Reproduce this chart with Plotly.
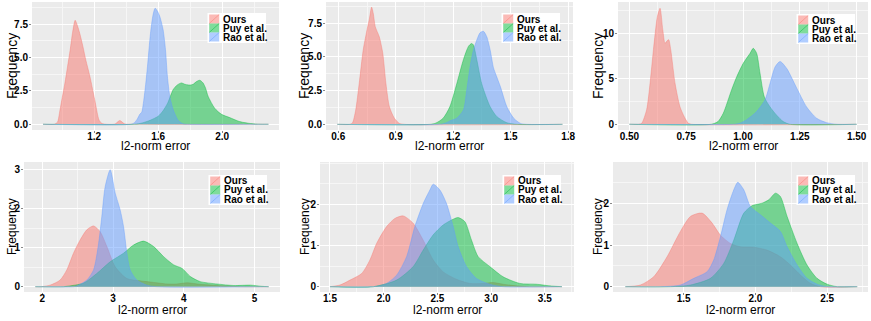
import plotly.graph_objects as go

# ---------------- data ----------------
series_names = ["Ours", "Puy et al.", "Rao et al."]
x_title = "l2-norm error"
y_title = "Frequency"

# Panel 1
p1_ours_x = [0.88, 0.95, 0.97, 0.985, 1.00, 1.017, 1.033, 1.05, 1.065, 1.081, 1.095, 1.11, 1.13, 1.148, 1.173, 1.204, 1.231, 1.25, 1.28, 1.33, 1.36, 1.39, 1.45, 2.29]
p1_ours_y = [0, 0, 0.15, 1.0, 2.0, 3.1, 4.3, 5.6, 6.9, 7.8, 7.4, 6.8, 5.8, 4.8, 3.6, 1.8, 0.3, 0.05, 0, 0.02, 0.28, 0.03, 0, 0]
p1_puy_x = [0.88, 1.45, 1.50, 1.55, 1.60, 1.63, 1.66, 1.694, 1.72, 1.746, 1.767, 1.7875, 1.805, 1.819, 1.84, 1.860, 1.881, 1.897, 1.9125, 1.954, 1.996, 2.048, 2.11, 2.194, 2.25, 2.29]
p1_puy_y = [0, 0, 0.1, 0.3, 0.6, 1.0, 1.6, 2.6, 2.95, 3.1, 3.0, 2.95, 2.95, 3.0, 3.2, 3.3, 3.1, 2.7, 2.1, 1.2, 0.75, 0.5, 0.2, 0.03, 0, 0]
p1_rao_x = [0.88, 1.43, 1.45, 1.47, 1.485, 1.497, 1.51, 1.522, 1.533, 1.552, 1.568, 1.581, 1.595, 1.610, 1.631, 1.646, 1.658, 1.673, 1.694, 1.725, 1.756, 1.78, 2.29]
p1_rao_y = [0, 0, 0.1, 0.4, 0.75, 0.9, 1.8, 3.0, 4.3, 6.8, 8.2, 8.7, 8.5, 8.1, 7.1, 5.6, 3.6, 2.1, 1.1, 0.3, 0.03, 0, 0]

# Panel 2
p2_ours_x = [0.595, 0.66, 0.674, 0.691, 0.709, 0.730, 0.747, 0.762, 0.774, 0.783, 0.793, 0.814, 0.832, 0.849, 0.867, 0.893, 0.919, 0.946, 1.77]
p2_ours_y = [0, 0, 0.1, 1.06, 3.0, 5.5, 6.8, 7.8, 8.7, 8.2, 7.25, 6.5, 5.3, 3.0, 1.3, 0.45, 0.07, 0, 0]
p2_puy_x = [0.595, 1.08, 1.11, 1.147, 1.182, 1.218, 1.253, 1.28, 1.296, 1.305, 1.323, 1.349, 1.393, 1.428, 1.48, 1.533, 1.77]
p2_puy_y = [0, 0, 0.1, 0.45, 1.3, 3.0, 4.8, 5.8, 6.0, 5.9, 4.8, 3.0, 1.3, 0.57, 0.12, 0, 0]
p2_rao_x = [0.595, 1.13, 1.16, 1.19, 1.218, 1.253, 1.27, 1.288, 1.305, 1.323, 1.34, 1.358, 1.375, 1.393, 1.41, 1.425, 1.446, 1.48, 1.516, 1.551, 1.586, 1.77]
p2_rao_y = [0, 0, 0.1, 0.3, 0.45, 1.06, 2.5, 4.3, 5.5, 6.26, 6.8, 6.9, 6.5, 5.5, 4.2, 3.6, 2.8, 1.3, 0.45, 0.07, 0, 0]

# Panel 3
p3_ours_x = [0.5, 0.54, 0.554, 0.576, 0.591, 0.606, 0.623, 0.635, 0.647, 0.657, 0.667, 0.673, 0.682, 0.701, 0.723, 0.745, 0.760, 0.774, 1.5]
p3_ours_y = [0, 0, 0.1, 1.6, 4.5, 8.2, 11.8, 12.75, 10.4, 8.9, 9.2, 9.3, 8.2, 4.5, 1.9, 0.66, 0.1, 0, 0]
p3_puy_x = [0.5, 0.86, 0.89, 0.913, 0.95, 0.972, 1.001, 1.031, 1.045, 1.06, 1.075, 1.094, 1.119, 1.148, 1.177, 1.207, 1.5]
p3_puy_y = [0, 0, 0.3, 1.2, 3.8, 5.2, 6.7, 7.8, 8.35, 7.8, 5.6, 3.0, 1.9, 1.0, 0.3, 0, 0]
p3_rao_x = [0.5, 0.96, 0.985, 1.016, 1.06, 1.097, 1.119, 1.141, 1.163, 1.192, 1.236, 1.28, 1.324, 1.368, 1.412, 1.5]
p3_rao_y = [0, 0, 0.1, 0.5, 1.4, 2.7, 4.5, 6.3, 6.9, 6.15, 4.0, 1.9, 0.66, 0.18, 0, 0]

# Panel 4
p4_ours_x = [1.9, 1.98, 2.109, 2.25, 2.345, 2.44, 2.534, 2.628, 2.723, 2.817, 2.912, 3.03, 3.195, 3.384, 3.573, 3.762, 3.9, 4.045, 4.234, 4.47, 4.8, 5.2]
p4_ours_y = [0, 0, 0.04, 0.17, 0.43, 0.86, 1.2, 1.46, 1.56, 1.41, 1.03, 0.51, 0.21, 0.15, 0.11, 0.07, 0.07, 0.1, 0.06, 0.03, 0, 0]
p4_puy_x = [1.9, 2.3, 2.345, 2.58, 2.77, 2.959, 3.148, 3.29, 3.431, 3.573, 3.715, 3.857, 3.975, 4.093, 4.234, 4.47, 4.707, 4.943, 5.1, 5.2]
p4_puy_y = [0, 0, 0.01, 0.09, 0.34, 0.64, 0.86, 1.07, 1.17, 1.03, 0.77, 0.56, 0.47, 0.26, 0.13, 0.07, 0.03, 0.04, 0.01, 0]
p4_rao_x = [1.9, 2.44, 2.487, 2.628, 2.723, 2.794, 2.84, 2.888, 2.959, 3.03, 3.10, 3.148, 3.195, 3.242, 3.337, 3.479, 3.62, 5.2]
p4_rao_y = [0, 0, 0.02, 0.17, 0.43, 1.1, 1.8, 2.57, 3.0, 2.4, 1.97, 1.54, 0.86, 0.43, 0.17, 0.04, 0, 0]

# Panel 5
p5_ours_x = [1.5, 1.593, 1.686, 1.795, 1.872, 1.934, 2.027, 2.105, 2.182, 2.275, 2.368, 2.461, 2.554, 2.678, 2.802, 2.926, 3.019, 3.112, 3.236, 3.36, 3.66]
p5_ours_y = [0, 0.04, 0.16, 0.32, 0.65, 1.05, 1.46, 1.66, 1.72, 1.54, 1.13, 0.65, 0.36, 0.18, 0.08, 0.08, 0.1, 0.06, 0.02, 0, 0]
p5_puy_x = [1.5, 1.903, 2.12, 2.275, 2.368, 2.461, 2.554, 2.647, 2.694, 2.756, 2.818, 2.88, 2.988, 3.112, 3.267, 3.422, 3.547, 3.66]
p5_puy_y = [0, 0, 0.16, 0.49, 0.89, 1.26, 1.5, 1.64, 1.68, 1.58, 1.13, 0.73, 0.49, 0.24, 0.08, 0.06, 0.02, 0]
p5_rao_x = [1.5, 1.903, 2.027, 2.12, 2.213, 2.29, 2.368, 2.43, 2.461, 2.523, 2.585, 2.647, 2.694, 2.771, 2.864, 2.988, 3.112, 3.66]
p5_rao_y = [0, 0, 0.08, 0.28, 0.73, 1.46, 2.02, 2.35, 2.49, 2.35, 2.02, 1.46, 0.97, 0.49, 0.2, 0.06, 0, 0]

# Panel 6
p6_ours_x = [1.093, 1.198, 1.291, 1.384, 1.477, 1.547, 1.628, 1.698, 1.756, 1.826, 1.895, 1.988, 2.081, 2.174, 2.244, 2.314, 2.384, 2.453, 2.71]
p6_ours_y = [0, 0.04, 0.24, 0.72, 1.33, 1.69, 1.77, 1.53, 1.24, 1.04, 0.96, 0.95, 0.88, 0.72, 0.52, 0.28, 0.08, 0, 0]
p6_puy_x = [1.093, 1.407, 1.547, 1.686, 1.779, 1.849, 1.919, 1.977, 2.047, 2.093, 2.14, 2.174, 2.221, 2.291, 2.36, 2.43, 2.5, 2.57, 2.71]
p6_puy_y = [0, 0, 0.04, 0.2, 0.56, 1.12, 1.77, 1.95, 2.01, 2.09, 2.25, 2.17, 1.69, 1.04, 0.52, 0.2, 0.06, 0, 0]
p6_rao_x = [1.093, 1.337, 1.477, 1.57, 1.663, 1.709, 1.756, 1.802, 1.849, 1.877, 1.919, 1.965, 2.035, 2.105, 2.174, 2.221, 2.291, 2.36, 2.43, 2.5, 2.71]
p6_rao_y = [0, 0, 0.04, 0.2, 0.36, 0.64, 1.2, 1.85, 2.33, 2.51, 2.33, 1.93, 1.73, 1.53, 1.33, 0.96, 0.52, 0.2, 0.06, 0, 0]

# tick labels
p1_xticks = [1.2, 1.6, 2.0]; p1_xlabels = ["1.2", "1.6", "2.0"]
p1_yticks = [0, 2.5, 5, 7.5]; p1_ylabels = ["0.0", "2.5", "5.0", "7.5"]
p2_xticks = [0.6, 0.9, 1.2, 1.5, 1.8]; p2_xlabels = ["0.6", "0.9", "1.2", "1.5", "1.8"]
p2_yticks = [0, 2.5, 5, 7.5]; p2_ylabels = ["0.0", "2.5", "5.0", "7.5"]
p3_xticks = [0.5, 0.75, 1.0, 1.25, 1.5]; p3_xlabels = ["0.50", "0.75", "1.00", "1.25", "1.50"]
p3_yticks = [0, 5, 10]; p3_ylabels = ["0", "5", "10"]
p4_xticks = [2, 3, 4, 5]; p4_xlabels = ["2", "3", "4", "5"]
p4_yticks = [0, 1, 2, 3]; p4_ylabels = ["0", "1", "2", "3"]
p5_xticks = [1.5, 2.0, 2.5, 3.0, 3.5]; p5_xlabels = ["1.5", "2.0", "2.5", "3.0", "3.5"]
p5_yticks = [0, 1, 2]; p5_ylabels = ["0", "1", "2"]
p6_xticks = [1.5, 2.0, 2.5]; p6_xlabels = ["1.5", "2.0", "2.5"]
p6_yticks = [0, 1, 2]; p6_ylabels = ["0", "1", "2"]

# ---------------- layout / style ----------------
W, H = 871, 321
colors = [(248, 118, 109), (0, 186, 56), (97, 156, 255)]
FONT = "Liberation Sans, Arial, Helvetica, sans-serif"

def rgba(c, a):
    return "rgba(%d,%d,%d,%s)" % (c[0], c[1], c[2], a)

def px_x(p):
    return p / W

def px_y(p):
    return 1 - p / H

panels = [
    dict(series=[(p1_ours_x, p1_ours_y), (p1_puy_x, p1_puy_y), (p1_rao_x, p1_rao_y)],
         box=(32, 279, 2, 130), xr=[0.811, 2.356], yr=[-0.43, 9.17],
         xt=(p1_xticks, p1_xlabels), yt=(p1_yticks, p1_ylabels), xminor=0.2, yminor=1.25,
         xtitle_y=146, ytitle_size=14, ytitle_x=12, legtop=11),
    dict(series=[(p2_ours_x, p2_ours_y), (p2_puy_x, p2_puy_y), (p2_rao_x, p2_rao_y)],
         box=(326, 573, 2, 130), xr=[0.536, 1.825], yr=[-0.42, 9.08],
         xt=(p2_xticks, p2_xlabels), yt=(p2_yticks, p2_ylabels), xminor=0.15, yminor=1.25,
         xtitle_y=146, ytitle_size=14, ytitle_x=304, legtop=11),
    dict(series=[(p3_ours_x, p3_ours_y), (p3_puy_x, p3_puy_y), (p3_rao_x, p3_rao_y)],
         box=(618, 868, 2, 130), xr=[0.450, 1.55], yr=[-0.63, 13.44],
         xt=(p3_xticks, p3_xlabels), yt=(p3_yticks, p3_ylabels), xminor=0.125, yminor=2.5,
         xtitle_y=146, ytitle_size=14, ytitle_x=598, legtop=12),
    dict(series=[(p4_ours_x, p4_ours_y), (p4_puy_x, p4_puy_y), (p4_rao_x, p4_rao_y)],
         box=(24, 280, 162, 292), xr=[1.74, 5.36], yr=[-0.136, 3.2],
         xt=(p4_xticks, p4_xlabels), yt=(p4_yticks, p4_ylabels), xminor=0.5, yminor=0.5,
         xtitle_y=310, ytitle_size=12, ytitle_x=12, legtop=13),
    dict(series=[(p5_ours_x, p5_ours_y), (p5_puy_x, p5_puy_y), (p5_rao_x, p5_rao_y)],
         box=(320, 574, 162, 292), xr=[1.407, 3.772], yr=[-0.129, 3.03],
         xt=(p5_xticks, p5_xlabels), yt=(p5_yticks, p5_ylabels), xminor=0.25, yminor=0.5,
         xtitle_y=310, ytitle_size=12, ytitle_x=305, legtop=13),
    dict(series=[(p6_ours_x, p6_ours_y), (p6_puy_x, p6_puy_y), (p6_rao_x, p6_rao_y)],
         box=(613, 868, 162, 292), xr=[1.007, 2.785], yr=[-0.128, 3.0],
         xt=(p6_xticks, p6_xlabels), yt=(p6_yticks, p6_ylabels), xminor=0.25, yminor=0.5,
         xtitle_y=310, ytitle_size=12, ytitle_x=598, legtop=13),
]

fig = go.Figure()
shapes = []
annotations = []
layout = {}

for i, p in enumerate(panels, start=1):
    sfx = "" if i == 1 else str(i)
    x0, x1, y0, y1 = p["box"]
    for k, (xs, ys) in enumerate(p["series"]):
        fig.add_trace(go.Scatter(
            x=xs, y=ys, mode="lines", fill="tozeroy",
            fillcolor=rgba(colors[k], 0.5),
            line=dict(color=rgba(colors[k], 0.5), width=0.8, shape="spline", smoothing=0.7),
            xaxis="x" + sfx, yaxis="y" + sfx, showlegend=False, hoverinfo="skip",
            name=series_names[k]))
    tick_font = dict(family=FONT, size=10, color="black", weight="bold")
    common = dict(tickfont=tick_font, ticks="outside", ticklen=2, tickcolor="#888888",
                  tickwidth=1, showgrid=True, gridcolor="white", gridwidth=1,
                  zeroline=False, showline=False, automargin=False, fixedrange=True)
    layout["xaxis" + sfx] = dict(
        domain=[px_x(x0), px_x(x1)], range=p["xr"], anchor="y" + sfx,
        tickvals=p["xt"][0], ticktext=p["xt"][1], ticklabelstandoff=-5,
        minor=dict(dtick=p["xminor"], tick0=p["xt"][0][0], showgrid=True,
                   gridcolor="#F6F6F6", gridwidth=0.5, ticks=""),
        **common)
    layout["yaxis" + sfx] = dict(
        domain=[px_y(y1), px_y(y0)], range=p["yr"], anchor="x" + sfx,
        tickvals=p["yt"][0], ticktext=p["yt"][1], ticklabelstandoff=-1,
        minor=dict(dtick=p["yminor"], tick0=0, showgrid=True,
                   gridcolor="#F6F6F6", gridwidth=0.5, ticks=""),
        **common)
    # panel background
    shapes.append(dict(type="rect", xref="paper", yref="paper", layer="below",
                       x0=px_x(x0), x1=px_x(x1), y0=px_y(y1), y1=px_y(y0),
                       fillcolor="#EBEBEB", line=dict(width=0)))
    # axis titles
    annotations.append(dict(text=x_title, xref="paper", yref="paper",
                            x=px_x((x0 + x1) / 2), y=px_y(p["xtitle_y"]),
                            xanchor="center", yanchor="middle", showarrow=False,
                            font=dict(family=FONT, size=12, color="black")))
    annotations.append(dict(text=y_title, xref="paper", yref="paper",
                            x=px_x(p["ytitle_x"]), y=px_y((y0 + y1) / 2),
                            xanchor="center", yanchor="middle", showarrow=False, textangle=-90,
                            font=dict(family=FONT, size=p["ytitle_size"], color="black")))
    # legend (ggplot style, inside top-right)
    bw, bh = 58.5, 30
    bx1 = x1 - 13
    bx0 = bx1 - bw
    by0 = y0 + p["legtop"]
    by1 = by0 + bh
    shapes.append(dict(type="rect", xref="paper", yref="paper",
                       x0=px_x(bx0), x1=px_x(bx1), y0=px_y(by1), y1=px_y(by0),
                       fillcolor="white", line=dict(width=0)))
    for k, nm in enumerate(series_names):
        ky0 = by0 + 1.5 + k * 9
        ky1 = ky0 + 9
        kx0 = bx0 + 1.7
        kx1 = kx0 + 10
        shapes.append(dict(type="rect", xref="paper", yref="paper",
                           x0=px_x(kx0), x1=px_x(kx1), y0=px_y(ky1), y1=px_y(ky0),
                           fillcolor=rgba(colors[k], 0.5), line=dict(width=0)))
        shapes.append(dict(type="line", xref="paper", yref="paper",
                           x0=px_x(kx0), x1=px_x(kx1), y0=px_y(ky1), y1=px_y(ky0),
                           line=dict(color=rgba(colors[k], 0.6), width=0.8)))
        annotations.append(dict(text=nm, xref="paper", yref="paper",
                                x=px_x(bx0 + 13), y=px_y((ky0 + ky1) / 2),
                                xanchor="left", yanchor="middle", showarrow=False,
                                font=dict(family=FONT, size=10, color="black", weight="bold")))

fig.update_layout(
    width=W, height=H, margin=dict(l=0, r=0, t=0, b=0),
    paper_bgcolor="white", plot_bgcolor="rgba(0,0,0,0)",
    shapes=shapes, annotations=annotations, showlegend=False,
    font=dict(family=FONT),
    **layout)

fig.write_html("out.html", config={"displayModeBar": False},
               post_script="document.body.style.margin='0px';document.body.style.padding='0px';")
